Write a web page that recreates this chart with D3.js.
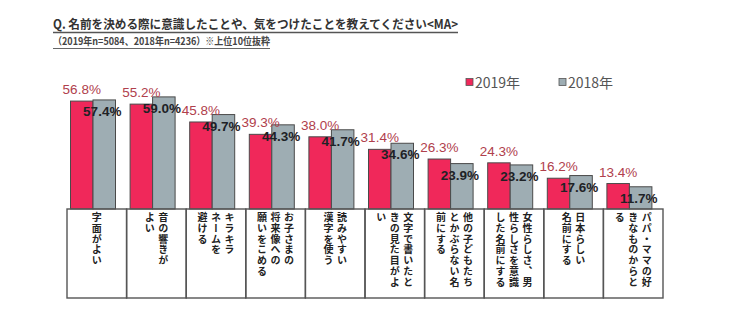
<!DOCTYPE html>
<html>
<head>
<meta charset="utf-8">
<script src="https://cdn.jsdelivr.net/npm/d3@7/dist/d3.min.js"></script>
<style>
  html, body { margin: 0; padding: 0; background: #fff; }
  svg { display: block; }
</style>
</head>
<body>
<svg id="chart" width="746" height="324"></svg>
<script>
// Reasons considered when choosing a name (top 10, multiple answers)
const categories = [
  "字面がよい",
  "音の響きがよい",
  "キラキラネームを避ける",
  "お子さまの将来像への願いをこめる",
  "読みやすい漢字を使う",
  "文字で書いたときの見た目がよい",
  "他の子どもたちとかぶらない名前にする",
  "女性らしさ、男性らしさを意識した名前にする",
  "日本らしい名前にする",
  "パパ・ママの好きなものからとる"
];
// Vertical label columns, read right to left
const categoryColumns = [
  ["字面がよい"],
  ["音の響きが", "よい"],
  ["キラキラ", "ネームを", "避ける"],
  ["お子さまの", "将来像への", "願いをこめる"],
  ["読みやすい", "漢字を使う"],
  ["文字で書いたと", "きの見た目がよ", "い"],
  ["他の子どもたち", "とかぶらない名", "前にする"],
  ["女性らしさ、男", "性らしさを意識", "した名前にする"],
  ["日本らしい", "名前にする"],
  ["パパ・ママの好", "きなものからと", "る"]
];
const values2019 = [56.8, 55.2, 45.8, 39.3, 38.0, 31.4, 26.3, 24.3, 16.2, 13.4];
const values2018 = [57.4, 59.0, 49.7, 44.3, 41.7, 34.6, 23.9, 23.2, 17.6, 11.7];
const seriesNames = ["2019年", "2018年"];
const titleText = "Q. 名前を決める際に意識したことや、気をつけたことを教えてください<MA>";
const subtitleText = "（2019年n=5084、2018年n=4236）※上位10位抜粋";

const colors = ["#f0285a", "#9eadb3"];
const labelColors = ["#b0404c", "#1e2226"];
const jpFont = "'Noto Sans CJK JP', 'Noto Sans', sans-serif";
const numFont = "'Liberation Sans Narrow', 'Liberation Sans', Arial, sans-serif";

const svg = d3.select("#chart");

// Title and subtitle with underlines
const title = svg.append("text")
  .attr("x", 53).attr("y", 29)
  .attr("font-family", jpFont).attr("font-size", 12.5).attr("font-weight", 700)
  .attr("fill", "#333")
  .attr("textLength", 405).attr("lengthAdjust", "spacingAndGlyphs")
  .text(titleText);
svg.append("line").attr("x1", 53).attr("x2", 458).attr("y1", 32.5).attr("y2", 32.5)
  .attr("stroke", "#555").attr("stroke-width", 1.3);

svg.append("text")
  .attr("x", 53).attr("y", 45)
  .attr("font-family", jpFont).attr("font-size", 10).attr("font-weight", 700)
  .attr("fill", "#444")
  .attr("textLength", 217).attr("lengthAdjust", "spacingAndGlyphs")
  .text(subtitleText);
svg.append("line").attr("x1", 53).attr("x2", 270).attr("y1", 48.5).attr("y2", 48.5)
  .attr("stroke", "#666").attr("stroke-width", 1);

// Scales
const baseY = 209, boxBottom = 298;
const x = d3.scaleBand().domain(categories).range([67, 663]).padding(0);
const y = d3.scaleLinear().domain([0, 60]).range([baseY, 95]);
const barW = 22.5, barOffset = 3.5;

const series = [values2019, values2018];

// Bars
series.forEach((vals, si) => {
  svg.append("g").selectAll("rect")
    .data(categories)
    .join("rect")
    .attr("x", d => x(d) + barOffset + si * barW)
    .attr("y", (d, i) => y(vals[i]))
    .attr("width", barW)
    .attr("height", (d, i) => baseY - y(vals[i]))
    .attr("fill", colors[si])
    .attr("stroke", "#4a4a4a")
    .attr("stroke-width", 1);
});

// Value labels: 2019 above the bar, 2018 just inside the bar top
svg.append("g").selectAll("text")
  .data(categories)
  .join("text")
  .attr("x", d => x(d) + barOffset + barW / 2)
  .attr("y", (d, i) => y(values2019[i]) - 7)
  .attr("text-anchor", "middle")
  .attr("font-family", numFont).attr("font-size", 13.5)
  .attr("fill", labelColors[0])
  .text((d, i) => values2019[i].toFixed(1) + "%");

svg.append("g").selectAll("text")
  .data(categories)
  .join("text")
  .attr("x", d => x(d) + barOffset + barW * 1.5 - 2)
  .attr("y", (d, i) => y(values2018[i]) + 16)
  .attr("text-anchor", "middle")
  .attr("font-family", numFont).attr("font-size", 13.5).attr("font-weight", 700)
  .attr("fill", labelColors[1])
  .text((d, i) => values2018[i].toFixed(1) + "%");

// Category boxes
svg.append("g").selectAll("rect")
  .data(categories)
  .join("rect")
  .attr("x", d => x(d))
  .attr("y", baseY)
  .attr("width", x.bandwidth())
  .attr("height", boxBottom - baseY)
  .attr("fill", "none")
  .attr("stroke", "#555")
  .attr("stroke-width", 1.4);

// Vertical category labels (columns right to left, centred in each box)
const colGap = 13.5;
const catG = svg.append("g");
categories.forEach((c, i) => {
  const cols = categoryColumns[i];
  const cx = x(c) + x.bandwidth() / 2;
  cols.forEach((col, j) => {
    const colX = cx + ((cols.length - 1) / 2 - j) * colGap;
    catG.append("text")
      .attr("x", colX)
      .attr("y", 212)
      .style("writing-mode", "vertical-rl")
      .attr("font-family", jpFont).attr("font-size", 10).attr("font-weight", 700)
      .attr("letter-spacing", 0.9)
      .attr("fill", "#222")
      .text(col);
  });
});

// Legend
const legend = svg.append("g");
const legendX = [466, 559];
seriesNames.forEach((name, si) => {
  legend.append("rect")
    .attr("x", legendX[si]).attr("y", 78.5)
    .attr("width", 7).attr("height", 7)
    .attr("fill", colors[si]).attr("stroke", "#555").attr("stroke-width", 0.8);
  legend.append("text")
    .attr("x", legendX[si] + 9).attr("y", 87.5)
    .attr("font-family", "'Noto Sans CJK JP', sans-serif").attr("font-size", 14)
    .attr("fill", "#555")
    .text(name);
});
</script>
</body>
</html>
